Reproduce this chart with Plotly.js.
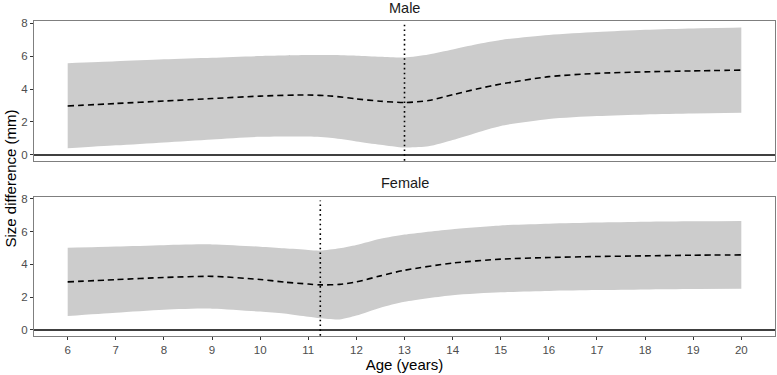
<!DOCTYPE html>
<html>
<head>
<meta charset="utf-8">
<script src="https://cdn.plot.ly/plotly-3.0.1.min.js"></script>
<style>
  html, body { margin: 0; padding: 0; background: #fff; }
  #chart { width: 777px; height: 375px; }
</style>
</head>
<body>
<div id="chart"></div>
<script>
// Age grid (years) and fitted curves per sex
const ageMale = [6, 7, 8, 9, 10, 11, 11.5, 12, 12.5, 13, 13.5, 14, 14.5, 15, 16, 17, 18, 19, 20];
const maleMean  = [2.97, 3.12, 3.27, 3.42, 3.57, 3.64, 3.57, 3.40, 3.26, 3.18, 3.30, 3.65, 4.00, 4.30, 4.75, 4.95, 5.04, 5.10, 5.15];
const maleUpper = [5.56, 5.68, 5.80, 5.90, 6.00, 6.06, 6.06, 6.02, 5.96, 5.92, 6.10, 6.40, 6.72, 6.98, 7.28, 7.46, 7.60, 7.68, 7.73];
const maleLower = [0.40, 0.58, 0.76, 0.94, 1.10, 1.11, 1.02, 0.82, 0.62, 0.45, 0.52, 0.90, 1.35, 1.76, 2.18, 2.36, 2.46, 2.52, 2.56];

const ageFemale = [6, 7, 8, 9, 10, 10.5, 11, 11.25, 11.65, 12, 12.5, 13, 14, 15, 16, 17, 18, 19, 20];
const femaleMean  = [2.93, 3.07, 3.20, 3.27, 3.08, 2.92, 2.80, 2.75, 2.78, 2.93, 3.30, 3.64, 4.08, 4.32, 4.42, 4.48, 4.52, 4.56, 4.58];
const femaleUpper = [5.01, 5.09, 5.17, 5.22, 5.08, 4.98, 4.88, 4.84, 4.98, 5.18, 5.56, 5.82, 6.15, 6.38, 6.48, 6.55, 6.60, 6.63, 6.65];
const femaleLower = [0.85, 1.05, 1.23, 1.30, 1.12, 1.00, 0.80, 0.71, 0.64, 0.88, 1.36, 1.72, 2.12, 2.30, 2.38, 2.43, 2.47, 2.50, 2.51];

// Age at which each sex's curve changes (dotted markers)
const panelNames = ["Male", "Female"];
const changeAge = [13, 11.25];

const xTicks = [6, 7, 8, 9, 10, 11, 12, 13, 14, 15, 16, 17, 18, 19, 20];
const yTicks = [0, 2, 4, 6, 8];

const ribbonFill = "rgb(204,204,204)";
const FONT = "Liberation Sans, Arial, sans-serif";

function panelTraces(age, lower, upper, mean, xa, ya) {
  return [
    { x: age, y: lower, xaxis: xa, yaxis: ya, type: "scatter", mode: "lines",
      line: { width: 0, shape: "spline", smoothing: 0.7 }, hoverinfo: "skip", showlegend: false },
    { x: age, y: upper, xaxis: xa, yaxis: ya, type: "scatter", mode: "lines",
      fill: "tonexty", fillcolor: ribbonFill,
      line: { width: 0, shape: "spline", smoothing: 0.7 }, hoverinfo: "skip", showlegend: false },
    { x: age, y: mean, xaxis: xa, yaxis: ya, type: "scatter", mode: "lines",
      line: { color: "#000", width: 1.6, dash: "6px,4px", shape: "spline", smoothing: 0.7 },
      showlegend: false }
  ];
}

const data = [
  ...panelTraces(ageMale, maleLower, maleUpper, maleMean, "x", "y"),
  ...panelTraces(ageFemale, femaleLower, femaleUpper, femaleMean, "x2", "y2")
];

const axisCommon = {
  range: [-0.37, 8.13],
  tickvals: yTicks,
  ticks: "outside", ticklen: 3, tickcolor: "#333", tickwidth: 1,
  showline: true, mirror: true, linecolor: "#7f7f7f", linewidth: 1,
  showgrid: false, zeroline: false,
  tickfont: { family: FONT, size: 11.5, color: "#4d4d4d" }
};
const xCommon = {
  range: [5.3, 20.7],
  tickvals: xTicks,
  showline: true, mirror: true, linecolor: "#7f7f7f", linewidth: 1,
  showgrid: false, zeroline: false,
  tickfont: { family: FONT, size: 11.5, color: "#4d4d4d" }
};

const shapes = [];
[["x", "y"], ["x2", "y2"]].forEach(([xa, ya], i) => {
  // horizontal reference at zero difference
  shapes.push({ type: "line", xref: xa + " domain", yref: ya, x0: 0, x1: 1, y0: 0, y1: 0,
    line: { color: "#000", width: 1.5 }, layer: "above" });
  // dotted marker at change age
  shapes.push({ type: "line", xref: xa, yref: ya, x0: changeAge[i], x1: changeAge[i], y0: -0.35, y1: 7.9,
    line: { color: "#000", width: 1.6, dash: "1.6px,3.2px" }, layer: "above" });
});

const layout = {
  width: 777, height: 375,
  margin: { l: 34, r: 2, t: 21, b: 39 },
  paper_bgcolor: "#fff", plot_bgcolor: "#fff",
  showlegend: false,
  xaxis: Object.assign({}, xCommon, { domain: [0, 1], anchor: "y", ticks: "", showticklabels: false }),
  yaxis: Object.assign({}, axisCommon, { domain: [0.5556, 1], anchor: "x" }),
  xaxis2: Object.assign({}, xCommon, { domain: [0, 1], anchor: "y2", ticks: "outside", ticklen: 3, tickcolor: "#333",
    title: { text: "Age (years)", font: { family: FONT, size: 15, color: "#000" }, standoff: 4 } }),
  yaxis2: Object.assign({}, axisCommon, { domain: [0, 0.4422], anchor: "x2" }),
  shapes: shapes,
  annotations: [
    { text: panelNames[0], xref: "paper", yref: "paper", x: 0.5, y: 1, yanchor: "middle", yshift: 13,
      showarrow: false, font: { family: FONT, size: 14.5, color: "#1a1a1a" } },
    { text: panelNames[1], xref: "paper", yref: "paper", x: 0.5, y: 0.4422, yanchor: "middle", yshift: 14,
      showarrow: false, font: { family: FONT, size: 14.5, color: "#1a1a1a" } },
    { text: "Size difference (mm)", xref: "paper", yref: "paper", x: 0, xanchor: "center", xshift: -24,
      y: 0.5, yanchor: "middle", textangle: -90, showarrow: false,
      font: { family: FONT, size: 15, color: "#000" } }
  ]
};

Plotly.newPlot("chart", data, layout, { displayModeBar: false, staticPlot: true });
</script>
</body>
</html>
